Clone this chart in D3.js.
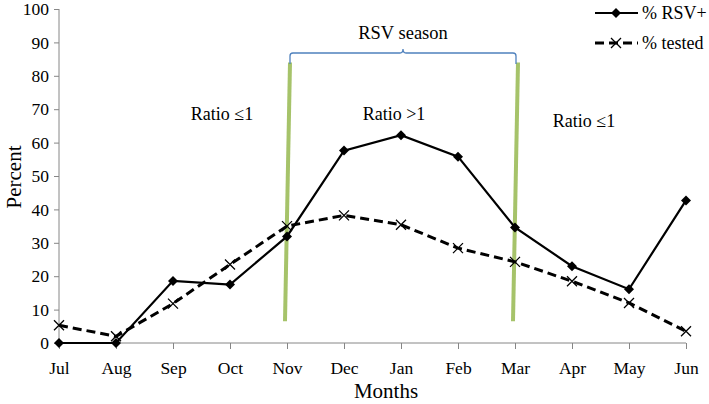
<!DOCTYPE html>
<html><head><meta charset="utf-8">
<script src="https://cdn.jsdelivr.net/npm/d3@7"></script>
<style>body{margin:0;background:#fff}svg{display:block}</style>
</head><body><svg id="c" width="709" height="404"></svg>
<script>
const months = ["Jul","Aug","Sep","Oct","Nov","Dec","Jan","Feb","Mar","Apr","May","Jun"];
const rsvPos = [0,0,18.6,17.5,31.9,57.6,62.2,55.8,34.6,23.0,16.1,42.7];
const tested = [5.3,2.0,11.8,23.5,35.0,38.2,35.4,28.4,24.3,18.5,12.0,3.5];
const yTicks = [0,10,20,30,40,50,60,70,80,90,100];
const seasonBounds = ["Nov","Mar"];

const FONT = "'Liberation Serif', Tinos, 'Times New Roman', serif";
const svg = d3.select("#c").style("font-family",FONT);
const x = d3.scalePoint().domain(months).range([59,686]);
const y = d3.scaleLinear().domain([0,100]).range([343,9]);
const axisCol = "#868686";

// Y axis
const ya = svg.append("g").attr("transform","translate(59,0)")
  .call(d3.axisLeft(y).tickValues(yTicks).tickSize(5).tickPadding(5));
ya.attr("font-family",null).attr("font-size",null);
ya.select(".domain").attr("stroke",axisCol).attr("d","M0,9V343");
ya.selectAll(".tick line").attr("stroke",axisCol);
ya.selectAll(".tick text").style("font-family",FONT).style("font-size","17.5px");

// X axis
const xa = svg.append("g").attr("transform","translate(0,343)")
  .call(d3.axisBottom(x).tickSize(6).tickPadding(13));
xa.attr("font-family",null).attr("font-size",null);
xa.select(".domain").attr("stroke",axisCol).attr("d","M59,0H686");
xa.selectAll(".tick line").attr("stroke",axisCol);
xa.selectAll(".tick text").style("font-family",FONT).style("font-size","17.5px");

function txt(xp,yp,s,size,anchor){
  return svg.append("text").attr("x",xp).attr("y",yp).attr("text-anchor",anchor||"middle")
    .style("font-family",FONT).style("font-size",size+"px").text(s);
}
txt(386,398,"Months",21);
svg.append("text").attr("transform","translate(21,177) rotate(-90)").attr("text-anchor","middle")
  .style("font-family",FONT).style("font-size","21px").text("Percent");

// green season lines
seasonBounds.forEach(m=>{
  const cx = x(m);
  svg.append("line").attr("x1",cx+3).attr("x2",cx-2).attr("y1",y(84)).attr("y2",y(6.5))
    .attr("stroke","#a6c36a").attr("stroke-width",4);
});

// brace
const bx0 = x(seasonBounds[0])+3, bx1 = x(seasonBounds[1])+1, bm=(bx0+bx1)/2;
svg.append("path").attr("fill","none").attr("stroke","#4f81bd").attr("stroke-width",1.3)
  .attr("d",`M${bx0},64 V56 Q${bx0},53 ${bx0+3},53 H${bm-3} Q${bm},53 ${bm},49 Q${bm},53 ${bm+3},53 H${bx1-3} Q${bx1},53 ${bx1},56 V64`);
txt(bm,39,"RSV season",18.5);

txt(222,120,"Ratio ≤1",18);
txt(394,120,"Ratio >1",18);
txt(584,127,"Ratio ≤1",18);

// lines
const line = d3.line().x((d,i)=>x(months[i])).y(d=>y(d));
svg.append("path").datum(tested).attr("fill","none").attr("stroke","#000").attr("stroke-width",3)
  .attr("stroke-dasharray","9,5").attr("d",line);
svg.append("path").datum(rsvPos).attr("fill","none").attr("stroke","#000").attr("stroke-width",2.2).attr("d",line);

function cross(g,cx,cy){
  g.append("path").attr("d",`M${cx-5},${cy-5}L${cx+5},${cy+5}M${cx-5},${cy+5}L${cx+5},${cy-5}`)
    .attr("stroke","#000").attr("stroke-width",1.3);
}
function diamond(g,cx,cy){
  g.append("path").attr("d",`M${cx},${cy-5}L${cx+5},${cy}L${cx},${cy+5}L${cx-5},${cy}Z`).attr("fill","#000");
}
const mk = svg.append("g");
tested.forEach((v,i)=>cross(mk,x(months[i]),y(v)));
rsvPos.forEach((v,i)=>diamond(mk,x(months[i]),y(v)));

// legend
const lg = svg.append("g");
lg.append("line").attr("x1",595).attr("x2",638).attr("y1",13).attr("y2",13).attr("stroke","#000").attr("stroke-width",2.2);
diamond(lg,616,13);
txt(642,19,"% RSV+",18,"start");
lg.append("line").attr("x1",595).attr("x2",638).attr("y1",43).attr("y2",43).attr("stroke","#000").attr("stroke-width",3).attr("stroke-dasharray","9,5");
cross(lg,616,43);
txt(642,49,"% tested",18,"start");
</script></body></html>
